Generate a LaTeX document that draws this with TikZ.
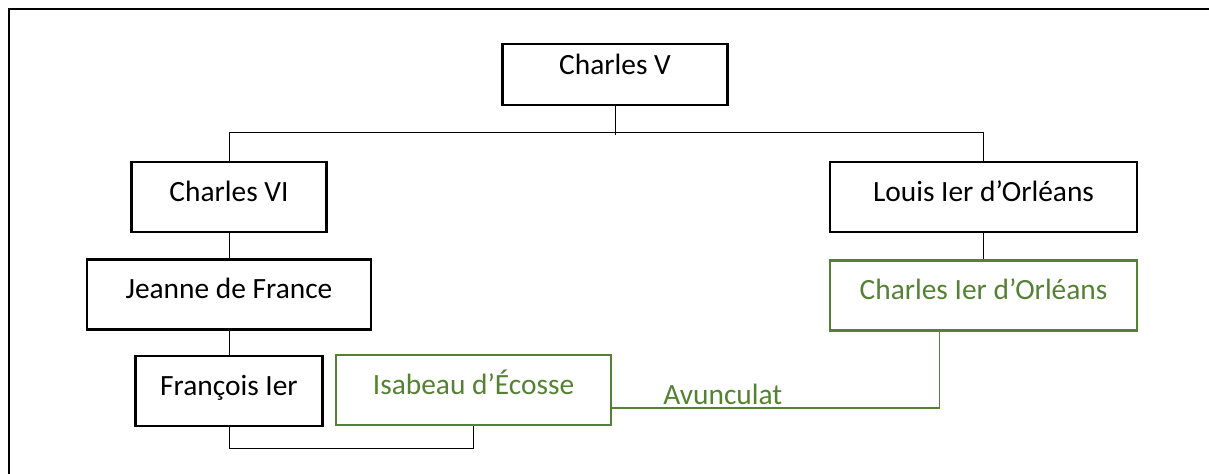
\documentclass[tikz,border=0pt]{standalone}
\usepackage{fontspec}
\setmainfont{Carlito}
\definecolor{FamGreen}{RGB}{84,130,53}
\usetikzlibrary{positioning,calc}
\begin{document}
\begin{tikzpicture}[x=0.5pt, y=-0.5pt,
    person/.style={draw, line width=1.1pt, minimum height=35pt, inner sep=0pt,
        font=\fontsize{14.7}{17}\selectfont, text height=10pt, text depth=5.7pt},
    heir/.style={person, draw=FamGreen, text=FamGreen},
    link/.style={line width=0.5pt}]
    \useasboundingbox (0,0) rectangle (1209,474);
    \draw[line width=1pt] (8.5,474) |- (1209,9.5);
    % persons
    \node[person, minimum width=112.5pt, minimum height=30.5pt, text depth=10pt] (C5) at (615,74.5) {Charles V};
    \node[person, minimum width=97.5pt] (C6) at (229,197) {Charles VI};
    \node[person, minimum width=142pt] (Jeanne) at (229,294.5) {Jeanne de France};
    \node[person, minimum width=93.5pt] (Francois) at (229,391) {François Ier};
    \node[heir, minimum width=137.5pt] (Isabeau) at (473.5,390) {Isabeau d’Écosse};
    \node[person, minimum width=153.5pt] (Louis) at (983.5,197) {Louis Ier d’Orléans};
    \node[heir, minimum width=153.5pt] (CharlesOrl) at (983.5,295.5) {Charles Ier d’Orléans};
    % lines
    \draw[link] (C5.south) -- ++(0,29);
    \draw[link] (C6.north) -- ++(0,-28) -| (Louis.north);
    \draw[link] (C6) -- (Jeanne);
    \draw[link] (Jeanne) -- (Francois);
    \draw[link] (Louis) -- (CharlesOrl);
    \draw[link] (Francois.south) -- ++(0,21) -| (Isabeau.south);
    \draw[link, line width=0.7pt, FamGreen] (Isabeau.east |- 0,408) -| ([xshift=-22pt]CharlesOrl.south);
    \node[anchor=base west, inner sep=0pt, text=FamGreen, font=\fontsize{14.7}{17}\selectfont] (avunc) at (663,405) {Avunculat};
\end{tikzpicture}
\end{document}
